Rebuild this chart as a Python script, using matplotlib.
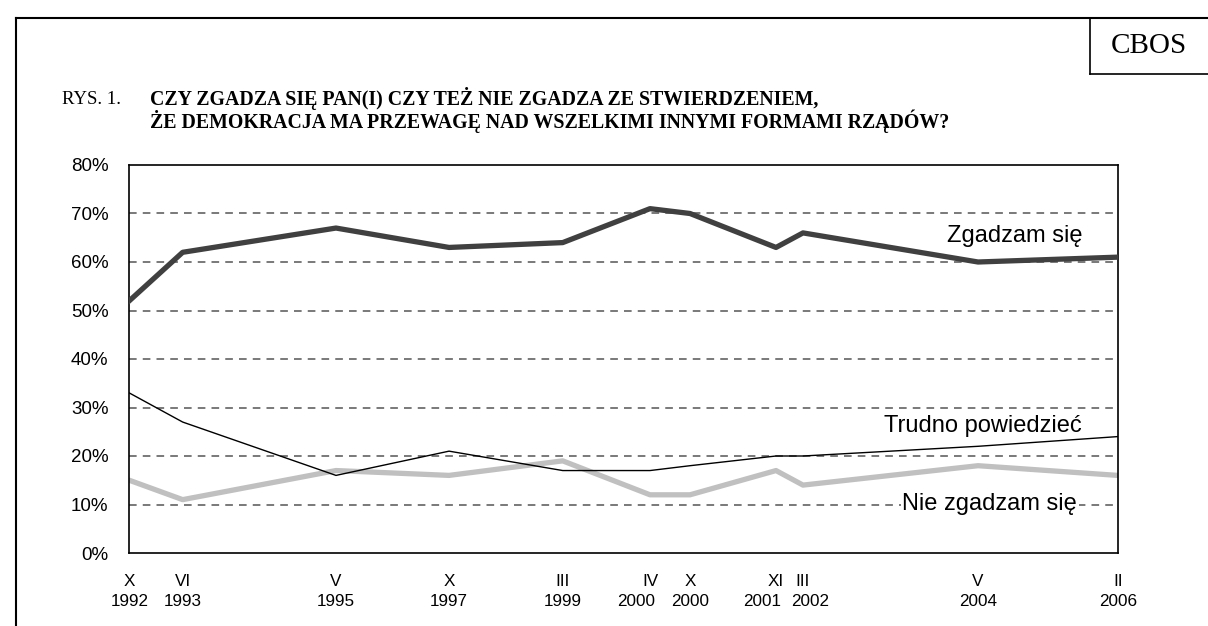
import numpy as np
import matplotlib.pyplot as plt
from matplotlib.lines import Line2D
from matplotlib import transforms

# survey dates (month in roman numerals, year) and their place on the axis
months = ['X', 'VI', 'V', 'X', 'III', 'IV', 'X', 'XI', 'III', 'V', 'II']
years = ['1992', '1993', '1995', '1997', '1999', '2000', '2000', '2001', '2002', '2004', '2006']
x_pos = [0, 5.40, 20.91, 32.35, 43.85, 52.68, 56.73, 65.43, 68.16, 85.87, 100]

zgadzam = [52, 62, 67, 63, 64, 71, 70, 63, 66, 60, 61]
nie_zgadzam = [15, 11, 17, 16, 19, 12, 12, 17, 14, 18, 16]
trudno = [33, 27, 16, 21, 17, 17, 18, 20, 20, 22, 24]

W, H = 1208, 626
fig = plt.figure(figsize=(W / 100, H / 100), dpi=100)
fig.patch.set_facecolor('white')

# outer frame and CBOS box (pixel coords -> figure coords)
fx = lambda px: px / W
fy = lambda py: 1 - py / H
fig.add_artist(Line2D([fx(16), fx(16)], [fy(18), 0], color='black', lw=1.5))
fig.add_artist(Line2D([fx(16), 1], [fy(18), fy(18)], color='black', lw=1.5))
fig.add_artist(Line2D([fx(1090), fx(1090)], [fy(18), fy(74)], color='black', lw=1.2))
fig.add_artist(Line2D([fx(1090), 1], [fy(74), fy(74)], color='black', lw=1.2))
fig.text(fx(1149), fy(46), 'CBOS', family='Liberation Serif', fontsize=21,
         ha='center', va='center')

fig.text(fx(62), fy(99), 'RYS. 1.', family='Liberation Serif', fontsize=13.5,
         ha='left', va='center')
fig.text(fx(150), fy(99), 'CZY ZGADZA SIĘ PAN(I) CZY TEŻ NIE ZGADZA ZE STWIERDZENIEM,',
         family='Liberation Serif', fontsize=14.3, fontweight='bold', ha='left', va='center')
fig.text(fx(150), fy(121), 'ŻE DEMOKRACJA MA PRZEWAGĘ NAD WSZELKIMI INNYMI FORMAMI RZĄDÓW?',
         family='Liberation Serif', fontsize=14.3, fontweight='bold', ha='left', va='center')

ax = fig.add_axes([fx(129.3), fy(553), fx(1117.7) - fx(129.3), fy(165) - fy(553)])
ax.set_xlim(0, 100)
ax.set_ylim(0, 80)

for v in range(10, 80, 10):
    ax.axhline(v, color='#555555', lw=1.1, ls=(0, (5, 4)), zorder=1)

ax.plot(x_pos, trudno, color='black', lw=1.0, zorder=3)
ax.plot(x_pos, nie_zgadzam, color='#c0c0c0', lw=3.8, zorder=2)
ax.plot(x_pos, zgadzam, color='#404040', lw=3.8, zorder=4)

ax.set_yticks(range(0, 81, 10))
ax.set_yticklabels([f'{v}%' for v in range(0, 81, 10)], family='Liberation Sans', fontsize=13.5)
ax.set_xticks(x_pos)
ax.set_xticklabels([])
ax.tick_params(axis='both', length=0)
ax.tick_params(axis='y', pad=15)
for s in ax.spines.values():
    s.set_color('black')
    s.set_linewidth(1.2)

# two-row date labels under the axis; some year labels sit a little off their month
base = ax.get_xaxis_transform()
year_shift = {5: -14, 7: -14, 8: 7}
for i, (m, y) in enumerate(zip(months, years)):
    ax.text(x_pos[i], 0, m, transform=transforms.offset_copy(base, fig=fig, y=-33, units='dots'),
            family='Liberation Sans', fontsize=12.3, ha='center', va='baseline')
    ax.text(x_pos[i], 0, y,
            transform=transforms.offset_copy(base, fig=fig, x=year_shift.get(i, 0), y=-53, units='dots'),
            family='Liberation Sans', fontsize=12.3, ha='center', va='baseline')

ax.text(96.4, 64.2, 'Zgadzam się', family='Liberation Sans', fontsize=17,
        ha='right', va='baseline')
ax.text(96.4, 25.0, 'Trudno powiedzieć', family='Liberation Sans', fontsize=17,
        ha='right', va='baseline')
ax.text(95.9, 8.9, 'Nie zgadzam się', family='Liberation Sans', fontsize=17,
        ha='right', va='baseline', zorder=5,
        bbox=dict(facecolor='white', edgecolor='none', pad=1))

fig.savefig('out.png', dpi=100)
